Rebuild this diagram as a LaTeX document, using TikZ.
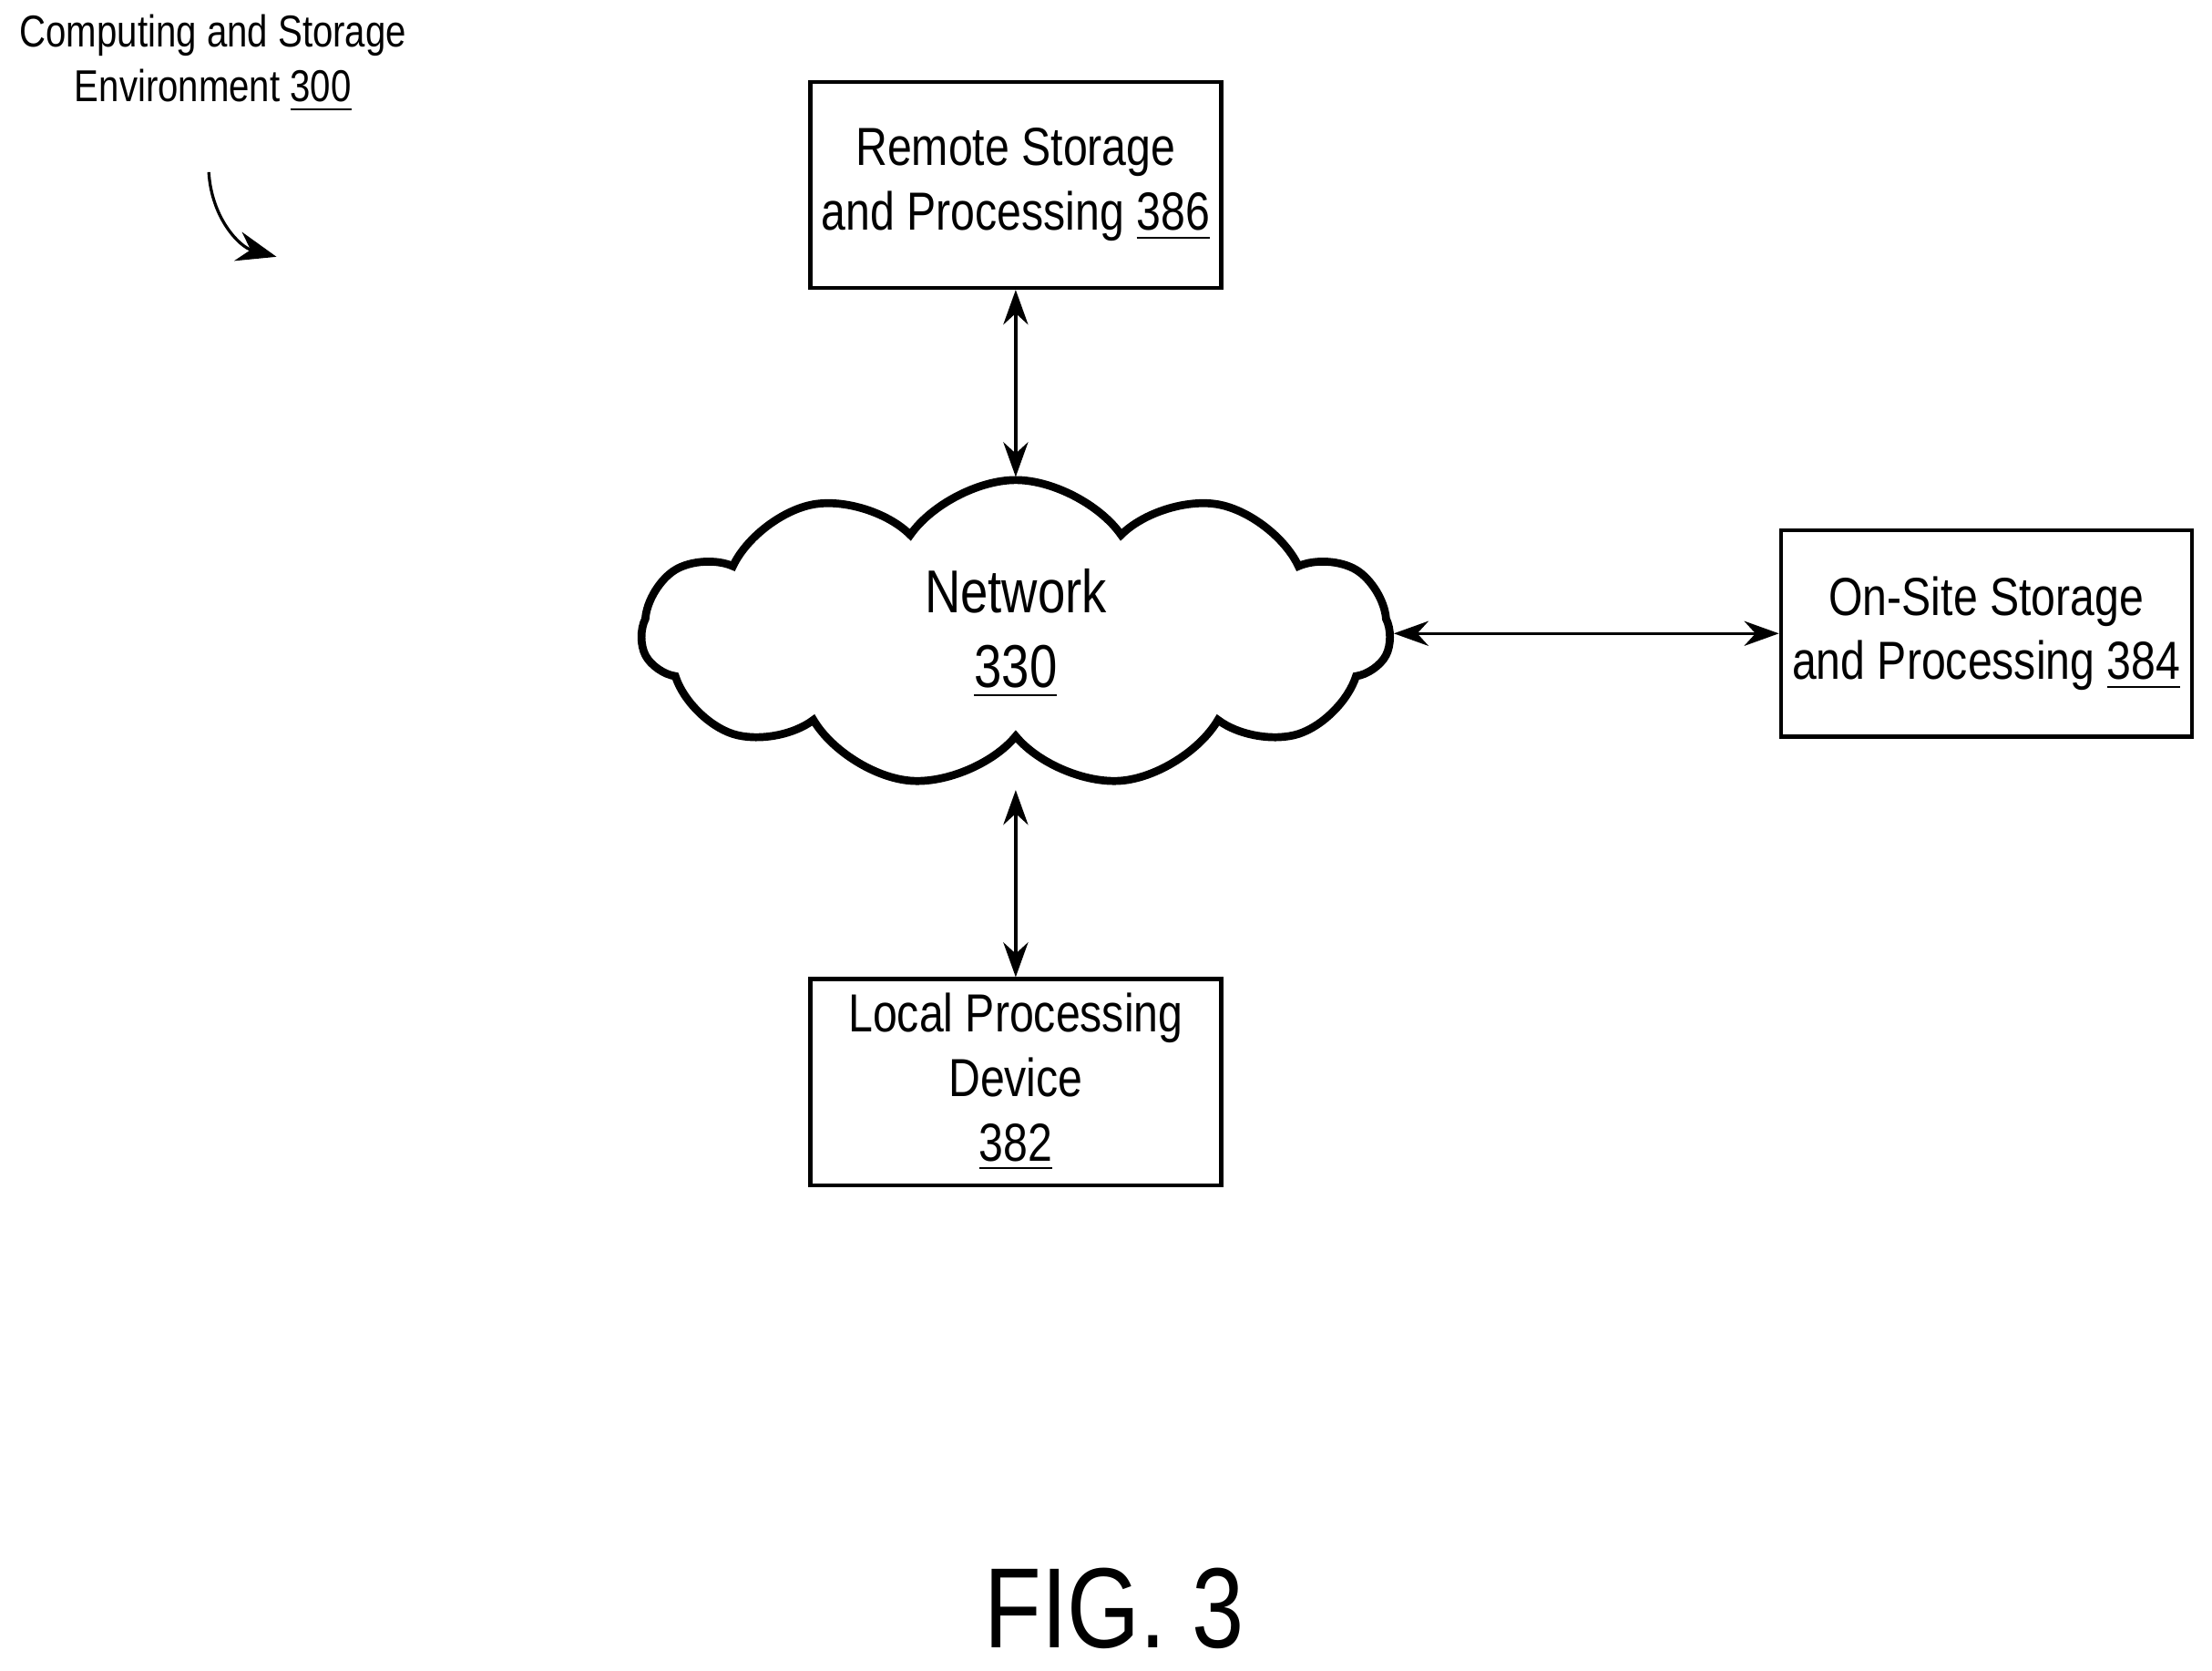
\documentclass[tikz,border=0pt]{standalone}
\usepackage{fontspec}
\setmainfont[FakeStretch=0.82]{Liberation Sans}
\usetikzlibrary{shapes.symbols,arrows.meta}
\begin{document}
\begin{tikzpicture}[x=0.01cm,y=-0.01cm]
\tikzstyle{box}=[draw,line width=0.8pt,minimum width=2.91cm,minimum height=1.46cm,align=center,font=\fontsize{10.8}{13}\selectfont,inner sep=0pt]
\tikzstyle{link}=[line width=0.6pt,{Stealth[length=7pt,width=5pt]}-{Stealth[length=7pt,width=5pt]}]
\useasboundingbox (0,0) rectangle (1568,1184);
\node (env) at (151,45) [align=center,font=\fontsize{9}{11}\selectfont] {Computing and Storage\\Environment \underline{300}};
\draw [line width=0.6pt,-{Stealth[length=8pt,width=6pt]}] (148,122) .. controls (150,155) and (170,175) .. (196,182);
\node (net) at (720,449) [cloud,cloud puffs=11,cloud puff arc=110,aspect=2.6,draw,line width=1.6pt,minimum width=5.3cm,minimum height=2.05cm,align=center,font=\fontsize{12.2}{15}\selectfont] {Network\\\underline{330}};
\node (remote) at (720,131) [box] {Remote Storage\\and Processing \underline{386}};
\node (onsite) at (1408,449) [box] {On-Site Storage\\and Processing \underline{384}};
\node (local) at (720,767) [box] {Local Processing\\Device\\\underline{382}};
\coordinate (nt) at (720,338);
\coordinate (nb) at (720,560);
\coordinate (nr) at (988,449);
\draw [link] (remote) -- (nt);
\draw [link] (local) -- (nb);
\draw [link] (onsite) -- (nr);
\node (fig) at (790,1140) [font=\fontsize{23}{26}\selectfont] {FIG. 3};
\end{tikzpicture}
\end{document}
